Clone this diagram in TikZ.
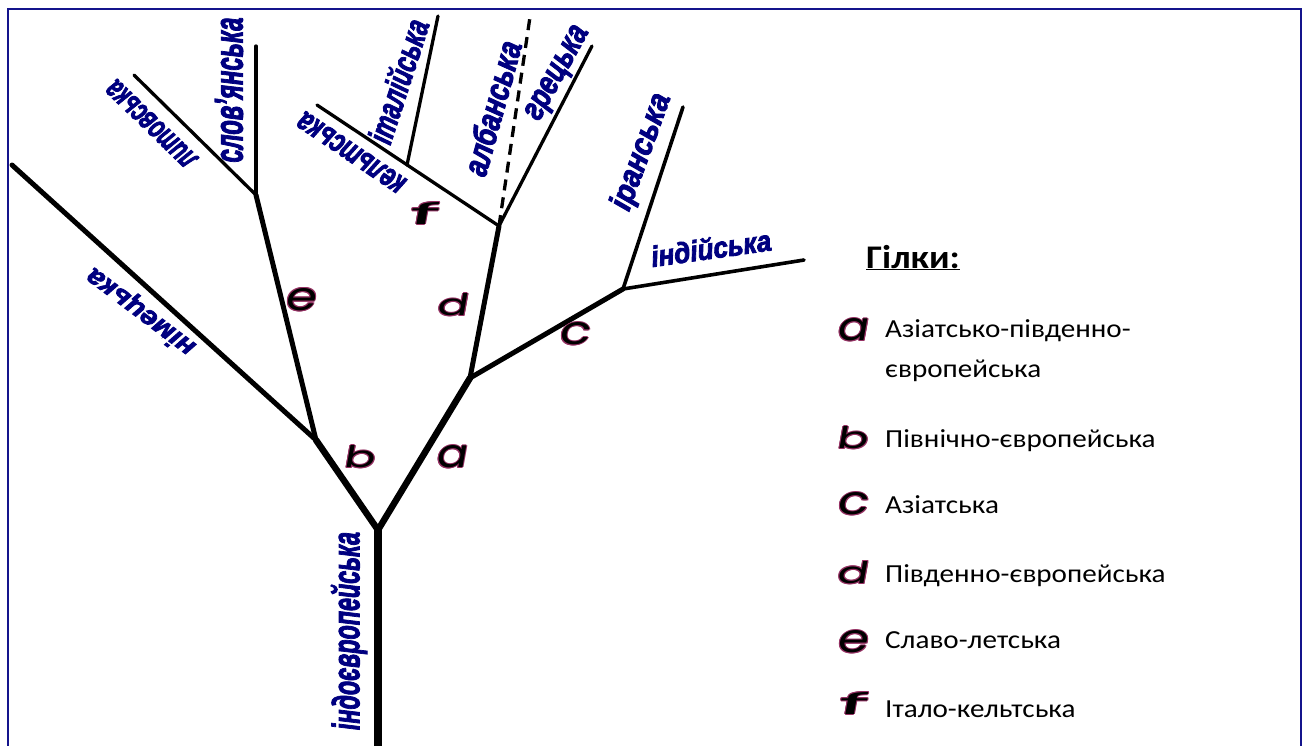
\documentclass[tikz,border=0pt]{standalone}
\usepackage{fontspec}
\usepackage{graphicx}
\newfontfamily\labfont{Liberation Sans}[BoldItalicFeatures={FakeBold=3}]
\newfontfamily\letfont{Poppins}
\newfontfamily\legfont{Carlito}
\definecolor{labnavy}{RGB}{0,0,128}
\definecolor{framec}{RGB}{20,20,140}
\definecolor{rimc}{RGB}{150,50,100}
\newcommand\tlab[3]{{\labfont\bfseries\itshape\fontsize{#1}{#1}\selectfont\resizebox{#2pt}{\height}{#3}}}
\newcommand\rimlet[1]{{\setbox0\hbox{\letfont\fontsize{34}{34}\selectfont\color{rimc}\resizebox{31pt}{22pt}{#1}}%
 \setbox2\hbox{\letfont\fontsize{34}{34}\selectfont\color{black}\resizebox{31pt}{22pt}{#1}}%
 \rlap{\kern-1pt\copy0}\rlap{\kern1pt\copy0}\rlap{\raise1pt\copy0}\rlap{\lower1pt\copy0}%
 \rlap{\kern-.7pt\raise.7pt\copy0}\rlap{\kern.7pt\raise.7pt\copy0}\rlap{\kern-.7pt\lower.7pt\copy0}\rlap{\kern.7pt\lower.7pt\copy0}%
 \box2}}
\newcommand\legt[1]{\scalebox{1.12}[1]{#1}}
\tikzset{
  limb/.style={draw=black, line width=#1, line cap=round, line join=round},
  lab/.style={text=labnavy, inner sep=0pt},
  letr/.style={inner sep=0pt, xslant=0.18},
  legtxt/.style={anchor=base west, inner sep=0pt, font=\legfont\fontsize{26}{30}\selectfont},
}
\begin{document}
\begin{tikzpicture}[x=1pt,y=-1pt]
\useasboundingbox (0,0) rectangle (1309,745);
\clip (0,0) rectangle (1309,745);
\fill[white] (0,0) rectangle (1309,745);
\draw[framec, line width=2pt] (8,760) -- (8,9) -- (1301,9) -- (1301,760);
% junctions and ends
\coordinate (bot) at (378,760);
\coordinate (J0) at (378,530);
\coordinate (Jb) at (316,440);
\coordinate (Ja) at (470,378);
\coordinate (Je) at (256,195);
\coordinate (Jd) at (499,226);
\coordinate (Jc) at (623,289);
\coordinate (Jf) at (407,165);
\coordinate (germ) at (12,165);
\coordinate (slav) at (256,46);
\coordinate (lith) at (134,75);
\coordinate (celt) at (317,105);
\coordinate (ital) at (438,16);
\coordinate (alb) at (530,17);
\coordinate (greek) at (592,46);
\coordinate (iran) at (683,107);
\coordinate (ind) at (804,260);
% branches
\draw[limb=8pt, line cap=butt] (bot) -- (J0);
\draw[limb=6.5pt] (J0) -- (Jb);
\draw[limb=6.5pt] (J0) -- (Ja);
\draw[limb=5pt] (Jb) -- (germ);
\draw[limb=5pt] (Jb) -- (Je);
\draw[limb=5pt] (Ja) -- (Jd);
\draw[limb=5pt] (Ja) -- (Jc);
\draw[limb=3.3pt] (Je) -- (slav);
\draw[limb=3.3pt] (Je) -- (lith);
\draw[limb=3.3pt] (Jd) -- (celt);
\draw[limb=3.3pt] (Jf) -- (ital);
\draw[limb=3.3pt, line cap=butt, dash pattern=on 11pt off 7pt] (Jd) -- (alb);
\draw[limb=3.3pt] (Jd) -- (greek);
\draw[limb=3.6pt] (Jc) -- (iran);
\draw[limb=3.6pt] (Jc) -- (ind);
% language labels
\node[lab, rotate=90] (lslav) at (229,90) {\tlab{40}{145}{слов’янська}};
\node[lab, rotate=136] (llith) at (151.5,124) {\tlab{33}{114}{литовська}};
\node[lab, rotate=72] (lital) at (398,81) {\tlab{34}{128}{італійська}};
\node[lab, rotate=146] (lcelt) at (351.5,152.5) {\tlab{33}{124}{кельтська}};
\node[lab, rotate=74.5] (lalb) at (492,108) {\tlab{34}{138}{албанська}};
\node[lab, rotate=61] (lgreek) at (559,74) {\tlab{34}{103}{грецька}};
\node[lab, rotate=70] (liran) at (642,152) {\tlab{32}{122}{іранська}};
\node[lab, rotate=8] (lind) at (711,248) {\tlab{29}{121}{індійська}};
\node[lab, rotate=143] (lgerm) at (141,311.5) {\tlab{27}{129}{німецька}};
\node[lab, rotate=90] (lie) at (349,631) {\tlab{38}{198}{індоєвропейська}};
% branch letters
\node[letr] (ta) at (452.5,457) {\rimlet{a}};
\node[letr] (tb) at (361,457) {\rimlet{b}};
\node[letr] (tc) at (575.5,334) {\rimlet{c}};
\node[letr] (td) at (454,305) {\rimlet{d}};
\node[letr] (te) at (301.7,299.7) {\rimlet{e}};
\node[letr] (tf) at (425,213) {\rimlet{f}};
% legend
\node[anchor=base west, inner sep=0pt, font=\legfont\bfseries\fontsize{33}{36}\selectfont] (title) at (866,268) {\legt{\underline{Гілки:}}};
\node[letr] (ka) at (854,330) {\rimlet{a}};
\node[letr] (kb) at (854,438) {\rimlet{b}};
\node[letr] (kc) at (854,504) {\rimlet{c}};
\node[letr] (kd) at (854,572.5) {\rimlet{d}};
\node[letr] (ke) at (854,642) {\rimlet{e}};
\node[letr] (kf) at (854,703) {\rimlet{f}};
\node[legtxt] (la1) at (885,337) {\legt{Азіатсько-південно-}};
\node[legtxt] (la2) at (885,377) {\legt{європейська}};
\node[legtxt] (lb) at (885,447) {\legt{Північно-європейська}};
\node[legtxt] (lc) at (885,513) {\legt{Азіатська}};
\node[legtxt] (ld) at (885,582) {\legt{Південно-європейська}};
\node[legtxt] (le) at (885,648) {\legt{Славо-летська}};
\node[legtxt] (lf) at (885,717) {\legt{Італо-кельтська}};
\end{tikzpicture}
\end{document}
